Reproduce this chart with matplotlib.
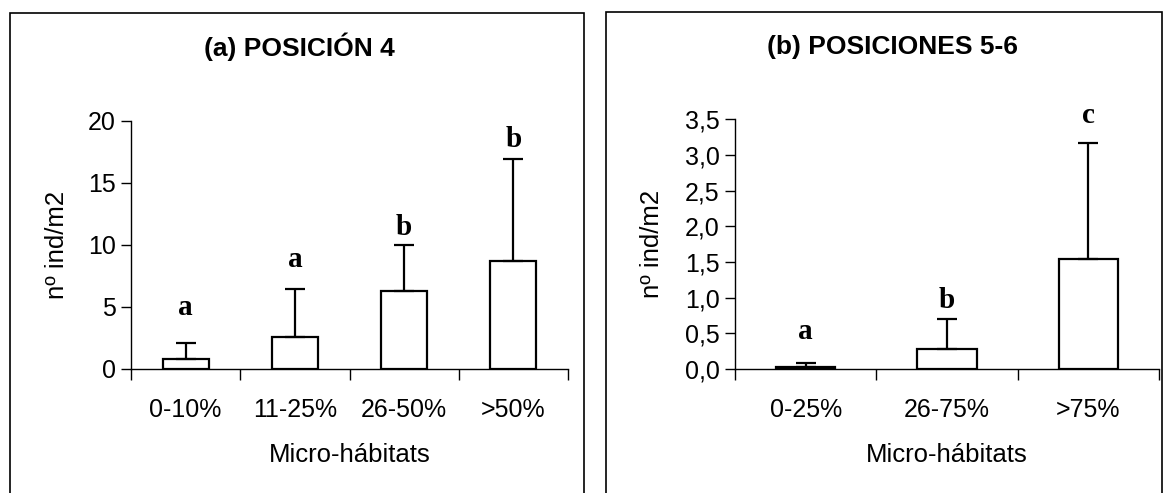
import matplotlib.pyplot as plt
from matplotlib.patches import Rectangle
from matplotlib.ticker import FuncFormatter, FixedLocator

plt.rcParams['font.family'] = ['Liberation Sans', 'DejaVu Sans']

# (a) Posicion 4
cats_a = ["0-10%", "11-25%", "26-50%", ">50%"]
mean_a = [0.81, 2.56, 6.26, 8.68]
err_a = [1.27, 3.9, 3.72, 8.22]
letters_a = ["a", "a", "b", "b"]
letter_y_a = [4.35, 8.25, 10.8, 17.9]

# (b) Posiciones 5-6
cats_b = ["0-25%", "26-75%", ">75%"]
mean_b = [0.03, 0.28, 1.54]
err_b = [0.055, 0.42, 1.625]
letters_b = ["a", "b", "c"]
letter_y_b = [0.42, 0.85, 3.45]

W, H = 1164, 493
fig = plt.figure(figsize=(W / 100, H / 100), dpi=100)

# panel frames
for x0, x1, y0 in [(10, 584, 13), (606, 1162, 12)]:
    fig.patches.append(Rectangle((x0 / W, -0.05), (x1 - x0) / W, 1.05 - y0 / H,
                                 transform=fig.transFigure, fill=False,
                                 edgecolor='black', linewidth=1.2))


def panel(rect, cats, mean, err, letters, letter_y, ymax, ystep, fmt, title, title_x, ylab_x):
    ax = fig.add_axes(rect)
    n = len(cats)
    pos = list(range(n))
    ax.bar(pos, mean, width=0.42, color='white', edgecolor='black', linewidth=1.6,
           yerr=[[0] * n, err], capsize=7,
           error_kw=dict(ecolor='black', elinewidth=1.6, capthick=1.6))
    for p, l, y in zip(pos, letters, letter_y):
        ax.text(p, y, l, ha='center', va='baseline', fontsize=21,
                fontweight='bold', family='Liberation Serif')
    ax.set_xlim(-0.5, n - 0.5)
    ax.set_ylim(0, ymax)
    ax.set_yticks([i * ystep for i in range(int(round(ymax / ystep)) + 1)])
    ax.yaxis.set_major_formatter(FuncFormatter(fmt))
    ax.set_xticks(pos)
    ax.set_xticklabels(cats)
    ax.xaxis.set_minor_locator(FixedLocator([i - 0.5 for i in range(n + 1)]))
    ax.tick_params(axis='x', which='major', length=0, pad=21, labelsize=18)
    ax.tick_params(axis='x', which='minor', length=8, width=1, direction='out')
    ax.tick_params(axis='y', length=7, width=1, direction='out', labelsize=18, pad=4)
    for s in ['top', 'right']:
        ax.spines[s].set_visible(False)
    ax.spines['left'].set_linewidth(1)
    ax.spines['bottom'].set_linewidth(1)
    ax.set_xlabel("Micro-hábitats", fontsize=18.5, labelpad=15)
    bb = rect
    fig.text(ylab_x / W, bb[1] + bb[3] / 2, "nº ind/m2", rotation=90,
             ha='center', va='center', fontsize=18.5)
    fig.text(title_x / W, 1 - 47 / H, title, ha='center', va='center',
             fontsize=19, fontweight='bold')
    return ax


panel([131 / W, 1 - 369 / H, 437 / W, 248 / H], cats_a, mean_a, err_a, letters_a,
      letter_y_a, 20, 5, lambda v, p: f"{v:.0f}", "(a) POSICIÓN 4", 299.5, 57)
panel([735 / W, 1 - 369 / H, 424 / W, 249.7 / H], cats_b, mean_b, err_b, letters_b,
      letter_y_b, 3.5, 0.5, lambda v, p: f"{v:.1f}".replace('.', ','),
      "(b) POSICIONES 5-6", 892, 652)

fig.savefig("out.png", dpi=100)
